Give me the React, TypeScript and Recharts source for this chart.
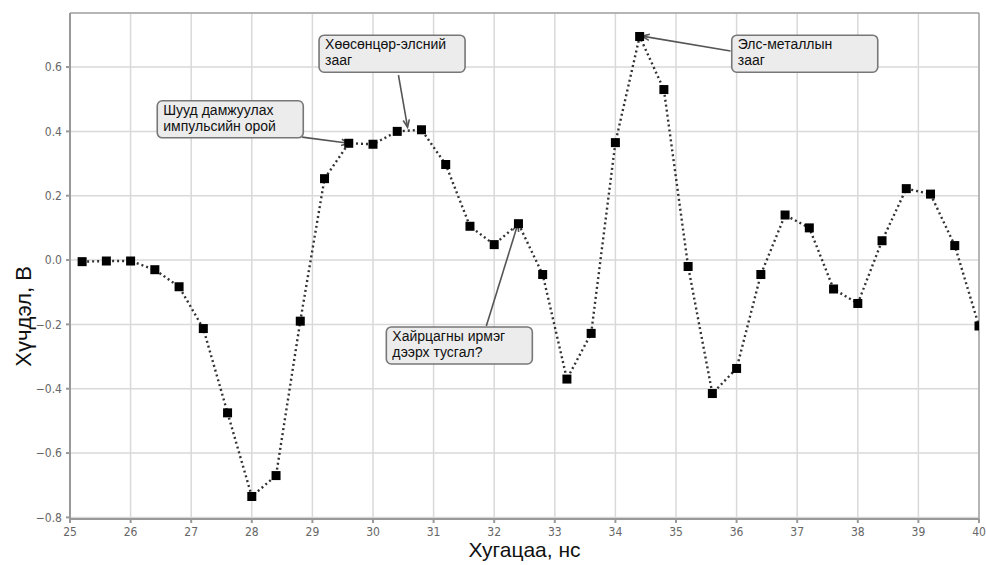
import {
  CartesianGrid,
  Line,
  LineChart,
  ReferenceDot,
  ReferenceLine,
  XAxis,
  YAxis,
} from 'recharts';

// sample times, ns
const TIME_NS = [
  25.2, 25.6, 26.0, 26.4, 26.8, 27.2, 27.6, 28.0, 28.4, 28.8, 29.2, 29.6, 30.0,
  30.4, 30.8, 31.2, 31.6, 32.0, 32.4, 32.8, 33.2, 33.6, 34.0, 34.4, 34.8, 35.2,
  35.6, 36.0, 36.4, 36.8, 37.2, 37.6, 38.0, 38.4, 38.8, 39.2, 39.6, 40.0,
];

// received voltage, V
const VOLTAGE_V = [
  -0.005, -0.003, -0.003, -0.03, -0.083, -0.213, -0.475, -0.735, -0.67, -0.19,
  0.253, 0.363, 0.36, 0.4, 0.405, 0.297, 0.105, 0.048, 0.113, -0.045, -0.37,
  -0.228, 0.365, 0.695, 0.53, -0.02, -0.415, -0.337, -0.045, 0.14, 0.1, -0.09,
  -0.135, 0.06, 0.222, 0.205, 0.045, -0.205,
];

const X_TICKS = [25, 26, 27, 28, 29, 30, 31, 32, 33, 34, 35, 36, 37, 38, 39, 40];
const Y_TICKS = [-0.8, -0.6, -0.4, -0.2, 0, 0.2, 0.4, 0.6];

const X_DOMAIN: [number, number] = [25, 40];
const Y_DOMAIN: [number, number] = [-0.805, 0.768];

type Note = {
  lines: string[];
  box: [number, number]; // top-left corner, data coords
  from: [number, number];
  to: [number, number];
};

const NOTES: Note[] = [
  {
    lines: ['Шууд дамжуулах', 'импульсийн орой'],
    box: [26.44, 0.495],
    from: [28.83, 0.382],
    to: [29.6, 0.363],
  },
  {
    lines: ['Хөөсөнцөр-элсний', 'зааг'],
    box: [29.11, 0.699],
    from: [30.42, 0.575],
    to: [30.57, 0.413],
  },
  {
    lines: ['Элс-металлын', 'зааг'],
    box: [35.92, 0.699],
    from: [35.9, 0.65],
    to: [34.44, 0.696],
  },
  {
    lines: ['Хайрцагны ирмэг', 'дээрх тусгал?'],
    box: [30.22, -0.208],
    from: [31.87, -0.205],
    to: [32.39, 0.112],
  },
];

const data = TIME_NS.map((t, i) => ({ t, v: VOLTAGE_V[i] }));

const TICK_FONT = { fontSize: 12, fill: '#666', fontFamily: 'DejaVu Sans Condensed, DejaVu Sans, sans-serif' };
const TITLE_FONT = 'Liberation Sans, Arial, sans-serif';

const fmtY = (v: number) => (v < 0 ? `\u2212${Math.abs(v).toFixed(1)}` : v.toFixed(1));

function SquareDot(props: any) {
  const { cx, cy, index } = props;
  if (cx == null || cy == null) return null;
  return <rect key={index} x={cx - 4.5} y={cy - 4.5} width={9} height={9} fill="#000" />;
}

function NoteBox({ cx, cy, lines }: any) {
  if (cx == null || cy == null) return <g />;
  return (
    <g>
      <rect x={cx} y={cy} width={146} height={37} rx={5} fill="#ececec" stroke="#777" strokeWidth={1.6} />
      {lines.map((s: string, i: number) => (
        <text key={s} x={cx + 6} y={cy + 14 + i * 16} fontSize={14} fontFamily={TITLE_FONT} fill="#111">
          {s}
        </text>
      ))}
    </g>
  );
}

function Arrow({ x1, y1, x2, y2 }: any) {
  if ([x1, y1, x2, y2].some((n) => n == null || Number.isNaN(n))) return <g />;
  const a = Math.atan2(y2 - y1, x2 - x1);
  const h = 8;
  const w = 0.4;
  const p1 = [x2 - h * Math.cos(a - w), y2 - h * Math.sin(a - w)];
  const p2 = [x2 - h * Math.cos(a + w), y2 - h * Math.sin(a + w)];
  return (
    <g>
      <line x1={x1} y1={y1} x2={x2} y2={y2} stroke="#555" strokeWidth={1.6} />
      <polyline
        points={`${p1[0]},${p1[1]} ${x2},${y2} ${p2[0]},${p2[1]}`}
        fill="none"
        stroke="#555"
        strokeWidth={1.6}
      />
    </g>
  );
}

export default function App() {
  return (
    <div style={{ position: 'absolute', left: 0, top: 0, width: 986, height: 565, background: '#fff' }}>
      <LineChart width={986} height={565} data={data} margin={{ top: 13, right: 7, left: 30, bottom: 26 }}>
        <CartesianGrid stroke="#d9d9d9" strokeWidth={1.5} />
        <XAxis
          dataKey="t"
          type="number"
          domain={X_DOMAIN}
          ticks={X_TICKS}
          allowDataOverflow
          height={20}
          tick={TICK_FONT}
          tickSize={4}
          tickMargin={4}
          stroke="#999"
          strokeWidth={2}
          label={{
            value: 'Хугацаа, нс',
            position: 'bottom',
            offset: 3,
            fontSize: 21,
            fill: '#111',
            fontFamily: TITLE_FONT,
          }}
        />
        <YAxis
          type="number"
          domain={Y_DOMAIN}
          ticks={Y_TICKS}
          allowDataOverflow
          width={40}
          tick={TICK_FONT}
          tickFormatter={fmtY}
          tickSize={4}
          tickMargin={4}
          stroke="#999"
          strokeWidth={2}
          label={{
            value: 'Хүчдэл, В',
            angle: -90,
            position: 'left',
            offset: 7,
            fontSize: 22,
            fill: '#111',
            fontFamily: TITLE_FONT,
          }}
        />
        <ReferenceLine y={Y_DOMAIN[1]} stroke="#a6a6a6" strokeWidth={1.5} />
        <ReferenceLine x={X_DOMAIN[1]} stroke="#a6a6a6" strokeWidth={1.5} />
        <Line
          dataKey="v"
          type="linear"
          stroke="#333"
          strokeWidth={2.4}
          strokeDasharray="2 3"
          dot={<SquareDot />}
          activeDot={false}
          isAnimationActive={false}
        />
        {NOTES.map((n) => (
          <ReferenceLine
            key={`a-${n.lines[0]}`}
            segment={[
              { x: n.from[0], y: n.from[1] },
              { x: n.to[0], y: n.to[1] },
            ]}
            ifOverflow="visible"
            shape={(p: any) => <Arrow {...p} />}
          />
        ))}
        {NOTES.map((n) => (
          <ReferenceDot
            key={`b-${n.lines[0]}`}
            x={n.box[0]}
            y={n.box[1]}
            r={1}
            ifOverflow="visible"
            shape={(p: any) => <NoteBox {...p} lines={n.lines} />}
          />
        ))}
      </LineChart>
    </div>
  );
}
